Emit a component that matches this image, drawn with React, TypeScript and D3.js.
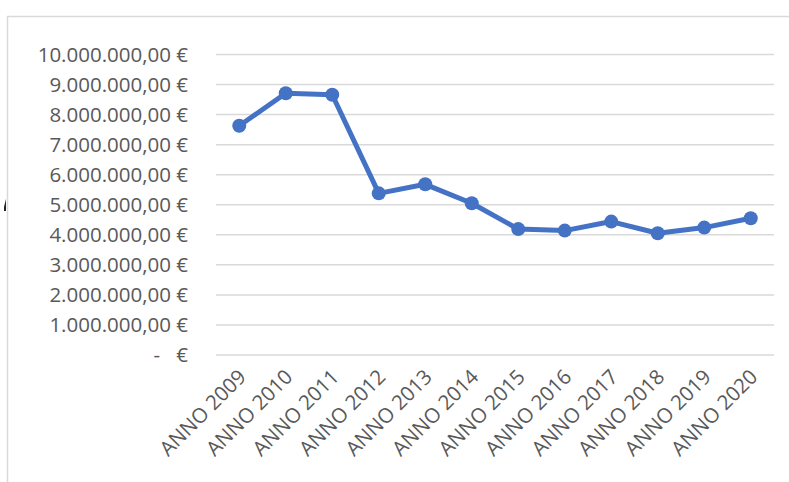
import React from "react";
import * as d3 from "d3";

const categories = ["ANNO 2009","ANNO 2010","ANNO 2011","ANNO 2012","ANNO 2013","ANNO 2014","ANNO 2015","ANNO 2016","ANNO 2017","ANNO 2018","ANNO 2019","ANNO 2020"];
const values = [7630000,8710000,8660000,5380000,5680000,5050000,4190000,4140000,4440000,4050000,4240000,4550000];
const yTicks = [0,1000000,2000000,3000000,4000000,5000000,6000000,7000000,8000000,9000000,10000000];

const W = 789, H = 482;
const FONT = "'Open Sans', sans-serif";
const FS = 20.5;

function fmt(v: number): string {
  const s = d3.format(",.2f")(v);
  return s.replace(/,/g, "#").replace(/\./g, ",").replace(/#/g, ".") + " €";
}

export default function App() {
  const x = d3.scaleBand<string>().domain(categories).range([216, 774]);
  const y = d3.scaleLinear().domain([0, 10000000]).range([355, 54.5]);
  const cx = (c: string) => (x(c) as number) + x.bandwidth() / 2;
  const line = d3.line<number>().x((_, i) => cx(categories[i])).y(d => y(d));
  return (
    <svg width={W} height={H} style={{ position: "absolute", left: 0, top: 0, background: "#fff" }}>
      <rect x={7.5} y={16.5} width={W} height={H} fill="#fff" stroke="#d9d9d9" strokeWidth={1.5} />
      <path d="M4,207 L6,199 L6,211 L4,211 Z" fill="#222" />
      {yTicks.map(t => (
        <g key={t}>
          <line x1={216} x2={774} y1={y(t)} y2={y(t)} stroke="#d9d9d9" strokeWidth={1.5} />
          {t === 0 ? (
            <g>
              <text x={160} y={y(t)} dy="0.35em" textAnchor="end" fontFamily={FONT} fontSize={FS} fill="#595959">-</text>
              <text x={188} y={y(t)} dy="0.35em" textAnchor="end" fontFamily={FONT} fontSize={FS} fill="#595959">€</text>
            </g>
          ) : (
            <text x={188} y={y(t)} dy="0.35em" textAnchor="end" fontFamily={FONT} fontSize={FS} fill="#595959">{fmt(t)}</text>
          )}
        </g>
      ))}
      {categories.map(c => (
        <text key={c} transform={`translate(${cx(c) + 3},${373}) rotate(-45)`} textAnchor="end" dy="0.35em" fontFamily={FONT} fontSize={FS} fill="#595959">{c}</text>
      ))}
      <path d={line(values) || ""} fill="none" stroke="#4472C4" strokeWidth={5} strokeLinejoin="round" />
      {values.map((v, i) => (
        <circle key={i} cx={cx(categories[i])} cy={y(v)} r={7} fill="#4472C4" />
      ))}
    </svg>
  );
}
